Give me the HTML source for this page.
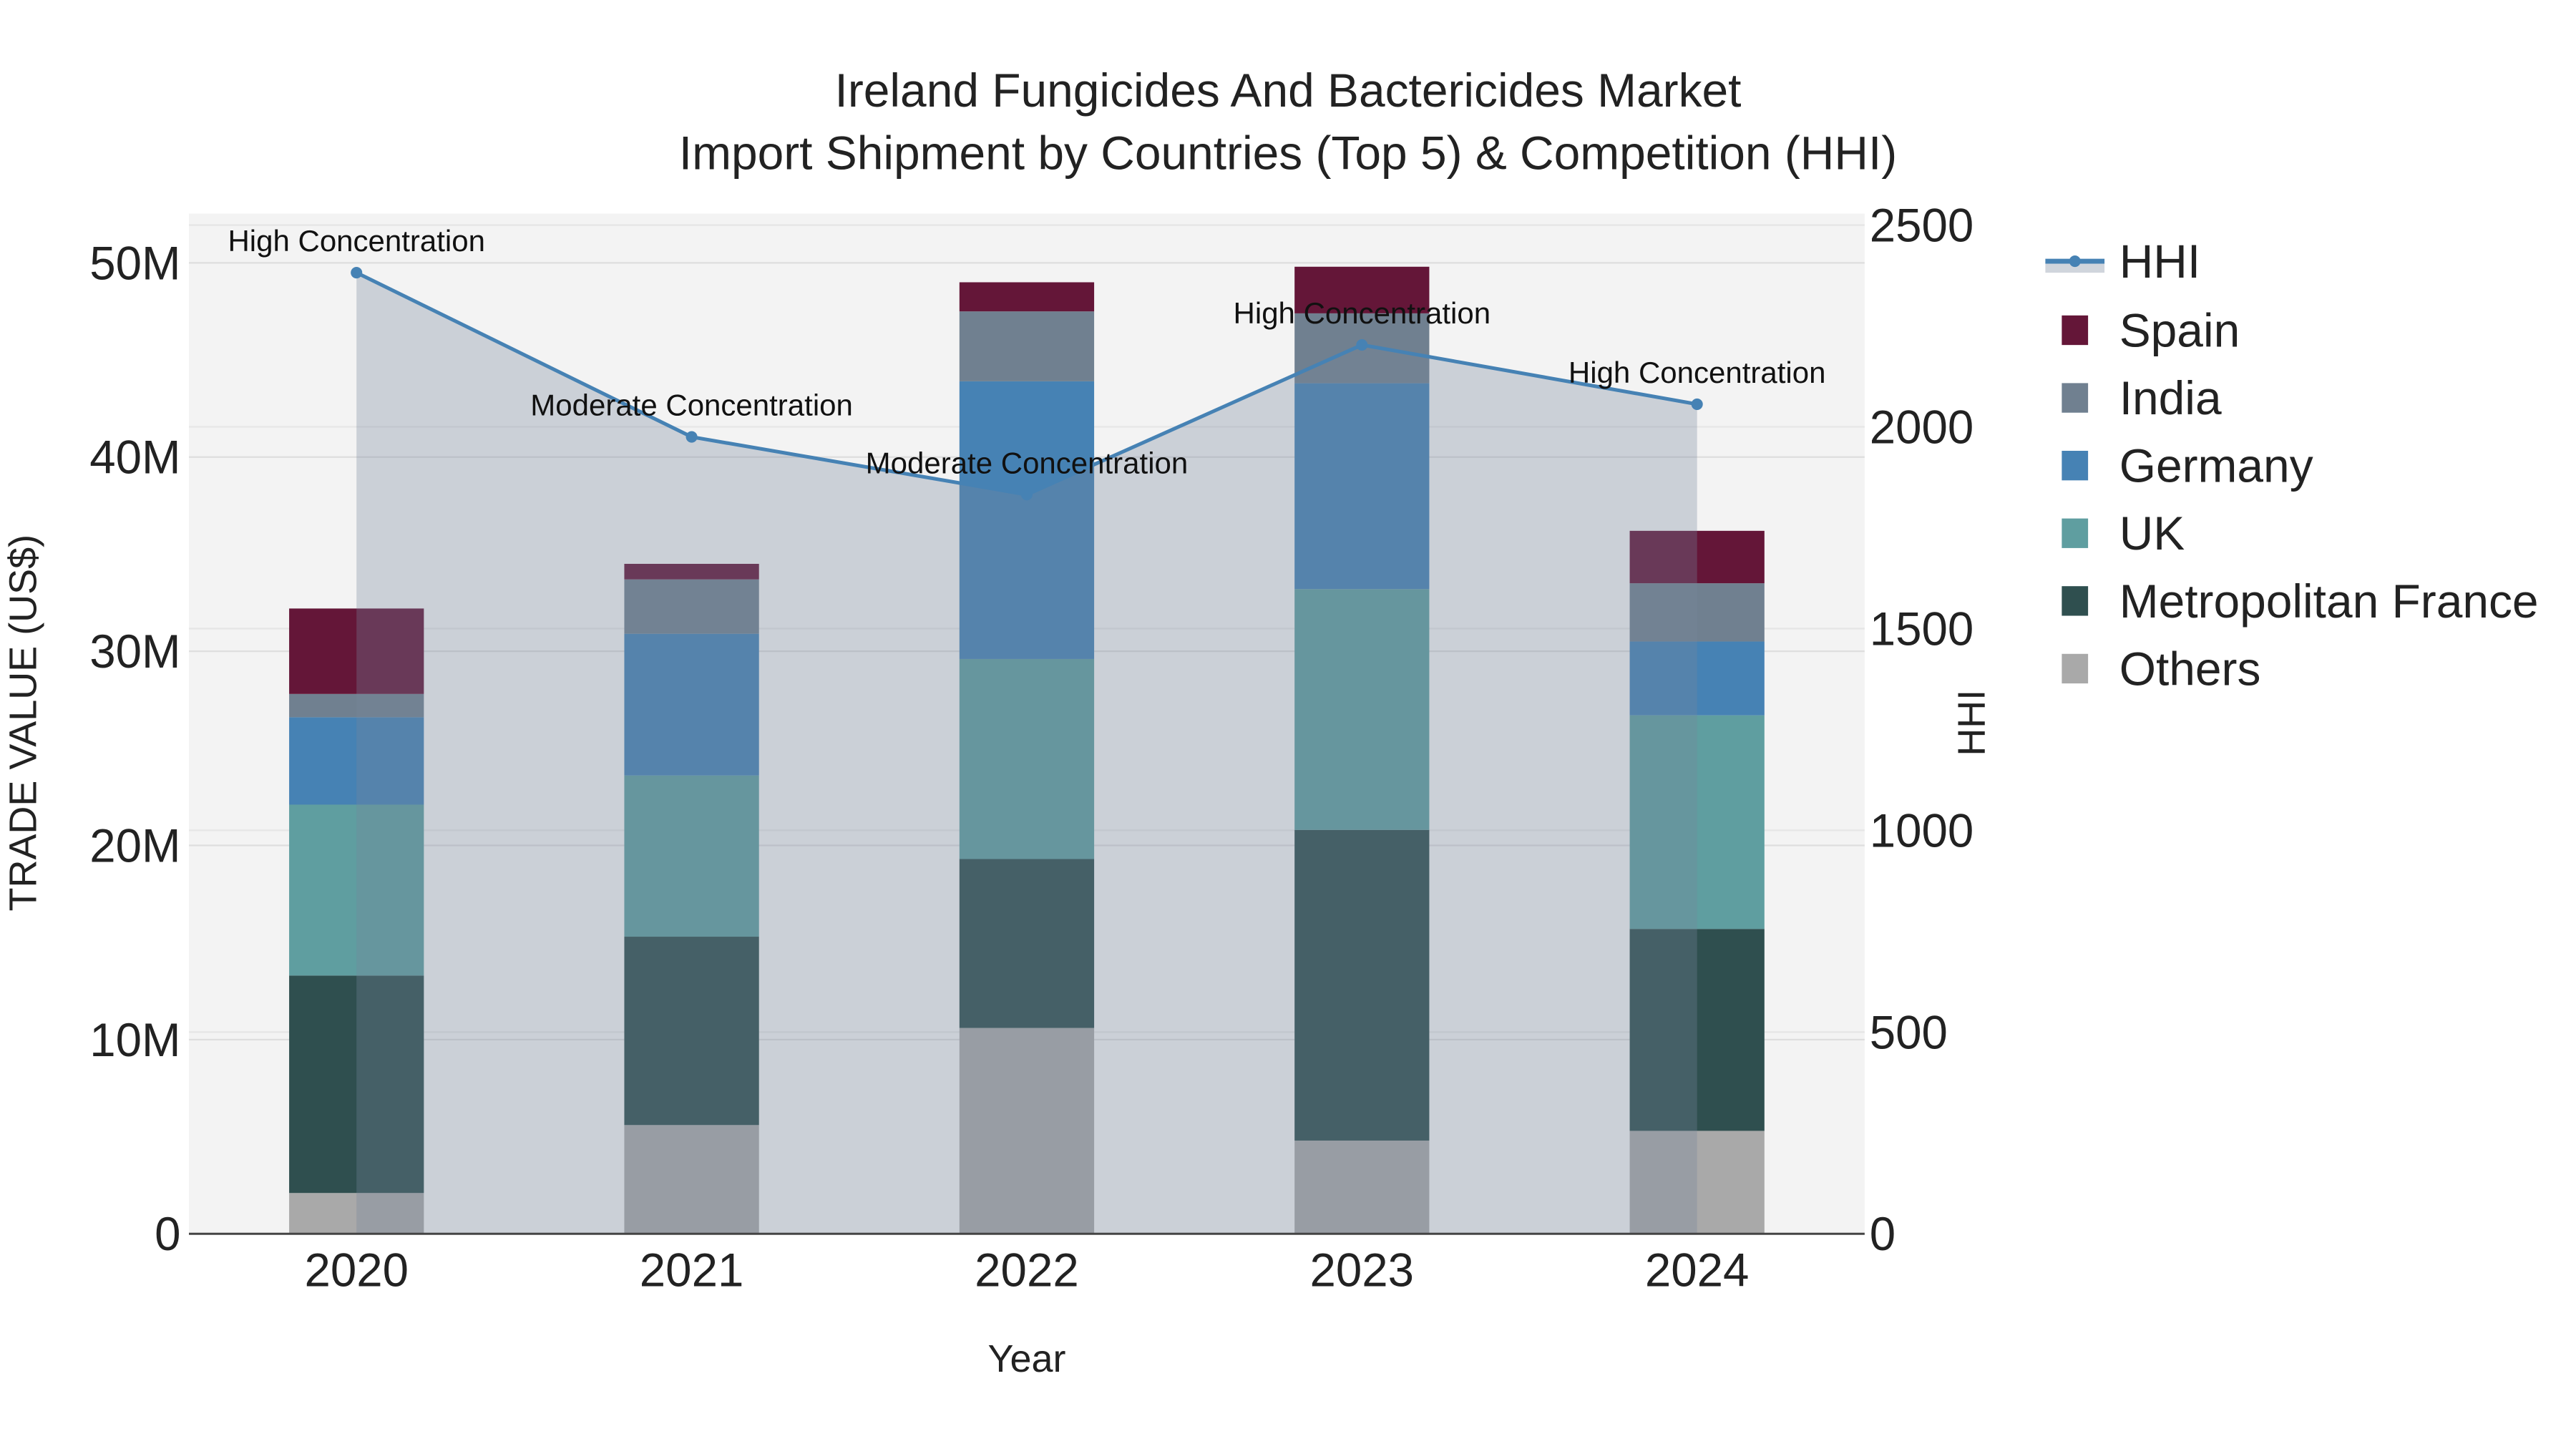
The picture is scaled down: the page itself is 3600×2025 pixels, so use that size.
<!DOCTYPE html>
<html><head><meta charset="utf-8"><style>
html,body{margin:0;padding:0;background:#fff;}
svg{display:block;font-family:"Liberation Sans",Arial,sans-serif;}
</style></head><body>
<svg id="chart" width="3600" height="2025" viewBox="0 0 1568 882" xmlns="http://www.w3.org/2000/svg">
<rect x="115" y="130" width="1020" height="621" fill="#f3f3f3"/>
<g id="grid"></g>
<g id="bars"></g>
<g id="hhi"></g>
<g id="axes"></g>
<text x="784" y="65" text-anchor="middle" font-size="28.7" fill="#222">Ireland Fungicides And Bactericides Market</text>
<text x="784" y="103" text-anchor="middle" font-size="28.7" fill="#222">Import Shipment by Countries (Top 5) &amp; Competition (HHI)</text>
<text x="625" y="835" text-anchor="middle" font-size="23.5" fill="#222">Year</text>
<text transform="translate(22,440) rotate(-90)" text-anchor="middle" font-size="23.5" fill="#222">TRADE VALUE (US$)</text>
<text transform="translate(1208,440) rotate(-90)" text-anchor="middle" font-size="23.5" fill="#222">HHI</text>
<g id="legend"></g>
</svg>
<script>
const years = ["2020","2021","2022","2023","2024"];
const seriesNames = ["Others","Metropolitan France","UK","Germany","India","Spain"];
const others  = [2.1, 5.6, 10.6, 4.8, 5.3];
const france  = [11.2, 9.7, 8.7, 16.0, 10.4];
const uk      = [8.8, 8.3, 10.3, 12.4, 11.0];
const germany = [4.5, 7.3, 14.3, 10.6, 3.8];
const india   = [1.2, 2.8, 3.6, 3.6, 3.0];
const spain   = [4.4, 0.8, 1.5, 2.4, 2.7];
const hhi = [2382, 1975, 1832, 2203, 2056];
const hhiLabels = ["High Concentration","Moderate Concentration","Moderate Concentration","High Concentration","High Concentration"];
const leftTicks = [0,10,20,30,40,50];
const leftTickLabels = ["0","10M","20M","30M","40M","50M"];
const rightTicks = [0,500,1000,1500,2000,2500];

const colors = ["#a9a9a9","#2f4f4f","#5f9ea0","#4682b4","#708090","#641638"];
const NS="http://www.w3.org/2000/svg";
const X0=115,X1=1135,Y0=751;
function xPos(i){return 217+i*204;}
function yL(v){return Y0 - v/50*591;}
function yR(h){return Y0 - h/2500*614;}
function mk(tag,attrs,parent){const e=document.createElementNS(NS,tag);for(const k in attrs)e.setAttribute(k,attrs[k]);parent.appendChild(e);return e;}

const grid=document.getElementById('grid');
leftTicks.forEach((t,i)=>{
  if(t>0){const l=mk('line',{x1:X0,x2:X1,y1:yL(t),y2:yL(t),stroke:'#dedede','stroke-width':1},grid);
  
  }
});
rightTicks.forEach(t=>{
  if(t>0){const l=mk('line',{x1:X0,x2:X1,y1:yR(t),y2:yR(t),stroke:'#e6e6e6','stroke-width':1},grid);
  
  }
});

const bars=document.getElementById('bars');
const all=[others,france,uk,germany,india,spain];
years.forEach((y,i)=>{
  let base=0;
  all.forEach((s,k)=>{
    const top=base+s[i];
    const r=mk('rect',{x:xPos(i)-41,width:82,y:yL(top),height:yL(base)-yL(top),fill:colors[k]},bars);
    
    
    base=top;
  });
});

const hg=document.getElementById('hhi');
let pts=hhi.map((h,i)=>xPos(i)+','+yR(h));
const area=mk('polygon',{points:xPos(0)+','+Y0+' '+pts.join(' ')+' '+xPos(4)+','+Y0,fill:'rgba(119,134,156,0.32)'},hg);


const line=mk('polyline',{points:pts.join(' '),fill:'none',stroke:'#4682b4','stroke-width':2.2},hg);


hhi.forEach((h,i)=>{
  const c=mk('circle',{cx:xPos(i),cy:yR(h),r:3.5,fill:'#4682b4'},hg);
  
  
  const t=mk('text',{x:xPos(i),y:yR(h)-13,'text-anchor':'middle','font-size':18.3,fill:'#111'},hg);
  t.textContent=hhiLabels[i];
  
  
});

const ax=document.getElementById('axes');
const xl=mk('line',{x1:X0,x2:X1,y1:Y0,y2:Y0,stroke:'#444','stroke-width':1.3},ax);


years.forEach((y,i)=>{
  const t=mk('text',{x:xPos(i),y:783,'text-anchor':'middle','font-size':28.5,fill:'#222'},ax);
  t.textContent=y;
  
  
});
leftTicks.forEach((v,i)=>{
  const t=mk('text',{x:110,y:yL(v)+10,'text-anchor':'end','font-size':28.5,fill:'#222'},ax);
  t.textContent=leftTickLabels[i];
  
  
});
rightTicks.forEach(v=>{
  const t=mk('text',{x:1138,y:yR(v)+10,'text-anchor':'start','font-size':28.5,fill:'#222'},ax);
  t.textContent=String(v);
  
  
});

const lg=document.getElementById('legend');
const hl=mk('rect',{x:1245,y:159,width:36,height:7,fill:'#d0d5dc'},lg);


const hl2=mk('line',{x1:1245,x2:1281,y1:159,y2:159,stroke:'#4682b4','stroke-width':3},lg);


const hc=mk('circle',{cx:1263,cy:159,r:3.5,fill:'#4682b4'},lg);


const ht=mk('text',{x:1290,y:169,'font-size':28.7,fill:'#222'},lg);
ht.textContent='HHI';


const order=[5,4,3,2,1,0];
order.forEach((k,j)=>{
  const yy=201+j*41.2;
  const s=mk('rect',{x:1255,y:yy-9,width:16,height:18,fill:colors[k]},lg);
  
  
  const t=mk('text',{x:1290,y:yy+10,'font-size':28.7,fill:'#222'},lg);
  t.textContent=seriesNames[k];
  
  
});
</script>
</body></html>
